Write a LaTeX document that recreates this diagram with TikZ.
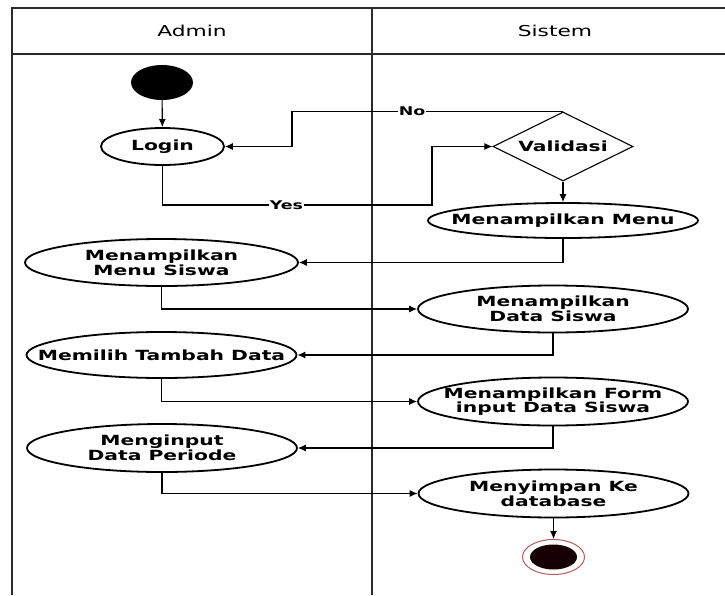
\documentclass[tikz,border=0pt]{standalone}
\usepackage{fontspec}
\setmainfont{DejaVu Sans}[FakeStretch=1.45]
\usetikzlibrary{shapes.geometric,arrows.meta}

\definecolor{framegray}{HTML}{2A2A2A}
\definecolor{endring}{HTML}{B85A5A}
\definecolor{endcore}{HTML}{160003}

\newcommand\actfont{\bfseries\fontsize{14}{13.5}\selectfont}
\newcommand\lanefont{\fontsize{15}{15}\selectfont}
\newcommand\guardfont{\bfseries\fontsize{12}{12}\selectfont}

\tikzset{
  frame/.style={draw=framegray, line width=1.6pt},
  % negative inner sep keeps the outline at the given minimum size
  act/.style={ellipse, draw, line width=1.8pt, fill=white,
    inner xsep=-70pt, inner ysep=-12pt, align=center, font=\actfont},
  decision/.style={diamond, draw, line width=1.1pt, fill=white,
    inner xsep=-40pt, inner ysep=-12pt,
    minimum width=140pt, minimum height=69pt, font=\actfont},
  flow/.style={draw, line width=1.1pt, -{Latex[length=8pt,width=7pt]}},
  guard/.style={fill=white, inner sep=1pt, font=\guardfont},
  lane/.style={font=\lanefont}
}

\begin{document}
\begin{tikzpicture}[x=1pt,y=-1pt]
\useasboundingbox (0,0) rectangle (725,595);

% swimlane frame
\draw[frame] (725,8) -- (12,8) -- (12,595);
\draw[frame] (12,54) -- (725,54);
\draw[frame] (372,8) -- (372,595);
\node[lane] (admin) at (192,30.5) {Admin};
\node[lane] (sistem) at (555,30.5) {Sistem};

% start and end
\node[ellipse, fill=black, minimum width=62pt, minimum height=35pt, inner sep=0pt] (start) at (162,82.5) {};
\node[ellipse, draw=endring, line width=1pt, fill=white, minimum width=62pt, minimum height=35pt, inner sep=0pt] (end) at (553.5,557) {};
\node[ellipse, fill=endcore, minimum width=47pt, minimum height=25pt, inner sep=0pt] (endc) at (end.center) {};

% activities
\node[act, minimum width=123pt, minimum height=37pt] (login) at (162.5,146.5) {Login};
\node[decision] (valid) at (563,146.5) {Validasi};
\node[act, minimum width=270pt, minimum height=35pt] (menu) at (563,220.5) {Menampilkan Menu};
\node[act, minimum width=273pt, minimum height=47pt] (msiswa) at (161.5,262.5) {Menampilkan\\Menu Siswa};
\node[act, minimum width=270pt, minimum height=47pt] (dsiswa) at (553,309) {Menampilkan\\Data Siswa};
\node[act, minimum width=270pt, minimum height=46pt] (tambah) at (161.5,355) {Memilih Tambah Data};
\node[act, minimum width=270pt, minimum height=48pt] (form) at (553,401.5) {Menampilkan Form\\input Data Siswa};
\node[act, minimum width=270pt, minimum height=48pt] (input) at (162,448) {Menginput\\Data Periode};
\node[act, minimum width=270pt, minimum height=48pt] (simpan) at (553.5,493.5) {Menyimpan Ke\\database};

% bend columns of the decision branches
\coordinate (yesbend) at (432,205);
\coordinate (nobend) at (292,112);

% flows
\draw[flow] (start) -- (login);
\draw[flow] (login.south) |- node[guard, pos=0.73] {Yes} (yesbend) |- (valid.west);
\draw[flow] (valid.north) -- node[guard, pos=0.557] {No} (valid.north -| nobend) |- (login.east);
\draw[flow] (valid.south) -- (menu.north);
\draw[flow] (menu.south) |- (msiswa.east);
\draw[flow] (msiswa.south) |- (dsiswa.west);
\draw[flow] (dsiswa.south) |- (tambah.east);
\draw[flow] (tambah.south) |- (form.west);
\draw[flow] (form.south) |- (input.east);
\draw[flow] (input.south) |- (simpan.west);
\draw[flow] (simpan.south) -- (end.north);
\end{tikzpicture}
\end{document}
